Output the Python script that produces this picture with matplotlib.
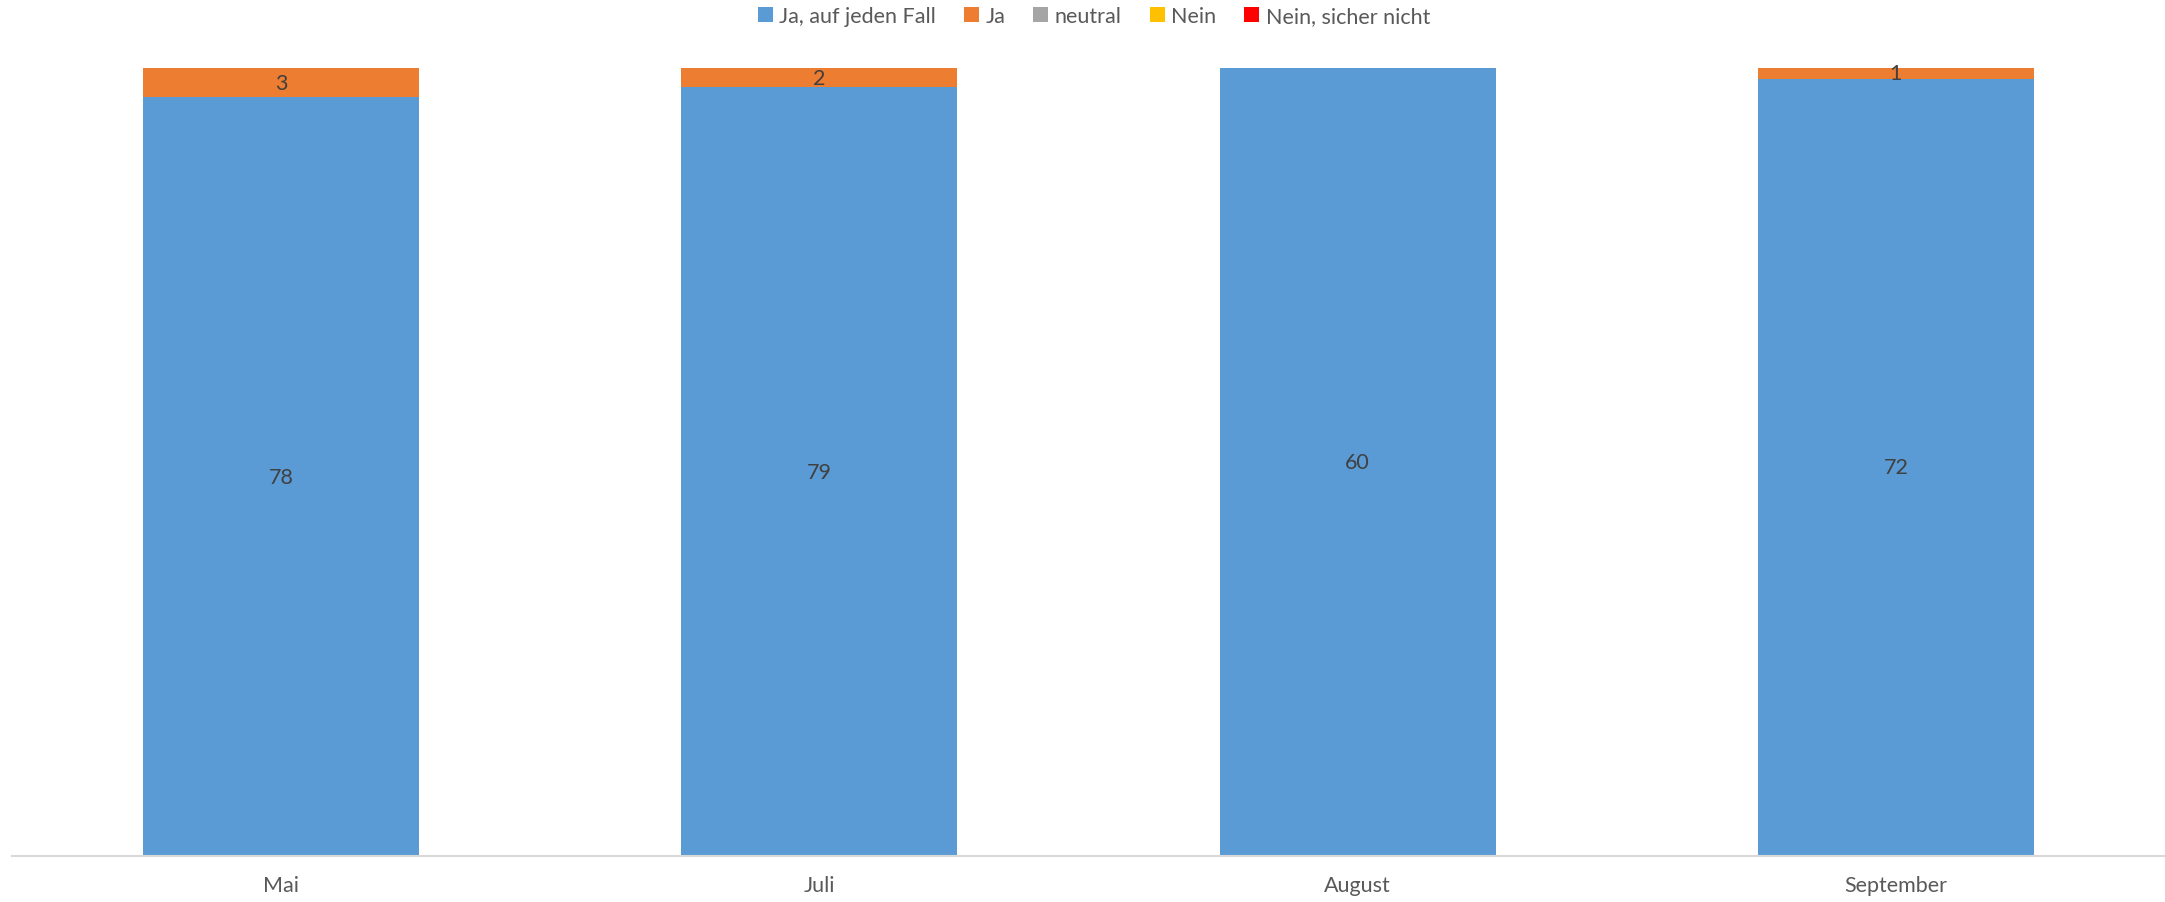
import matplotlib.pyplot as plt
import numpy as np

months = ["Mai", "Juli", "August", "September"]
series_names = ["Ja, auf jeden Fall", "Ja", "neutral", "Nein", "Nein, sicher nicht"]
ja_auf_jeden_fall = [78, 79, 60, 72]
ja = [3, 2, 0, 1]
neutral = [0, 0, 0, 0]
nein = [0, 0, 0, 0]
nein_sicher_nicht = [0, 0, 0, 0]

colors = ["#5B9BD5", "#ED7D31", "#A5A5A5", "#FFC000", "#FF0000"]

plt.rcParams['font.family'] = ['Lato', 'DejaVu Sans']

data = np.array([ja_auf_jeden_fall, ja, neutral, nein, nein_sicher_nicht], dtype=float)
totals = data.sum(axis=0)
shares = data / totals

fig = plt.figure(figsize=(21.65, 9.03), dpi=100)
ax = fig.add_axes([12 / 2165, 1 - 857 / 903, 2153 / 2165, 788 / 903])

x = np.arange(len(months))
bottom = np.zeros(len(months))
for name, col, share, vals in zip(series_names, colors, shares, data):
    ax.bar(x, share, bottom=bottom, width=0.513, color=col, label=name)
    for xi, b, s, v in zip(x, bottom, share, vals):
        if v > 0:
            ax.text(xi, b + s / 2, f"{int(v)}", ha="center", va="center",
                    fontsize=15.5, color="#404040")
    bottom += share

ax.set_xlim(-0.5, len(months) - 0.5)
ax.set_ylim(0, 1)
ax.set_xticks(x)
ax.set_xticklabels(months, fontsize=15.5, color="#595959")
ax.set_yticks([])
for side in ("top", "right", "left"):
    ax.spines[side].set_visible(False)
ax.spines["bottom"].set_color("#D9D9D9")
ax.spines["bottom"].set_linewidth(1.5)
ax.tick_params(axis="x", length=0, pad=14)

leg = fig.legend(loc="center", bbox_to_anchor=(1094 / 2165, 1 - 17 / 903), ncol=5,
                 frameon=False, fontsize=15.5, handlelength=0.7, handleheight=0.7,
                 handletextpad=0.3, columnspacing=1.3)
for t in leg.get_texts():
    t.set_color("#595959")

fig.savefig("out.png", dpi=100)
